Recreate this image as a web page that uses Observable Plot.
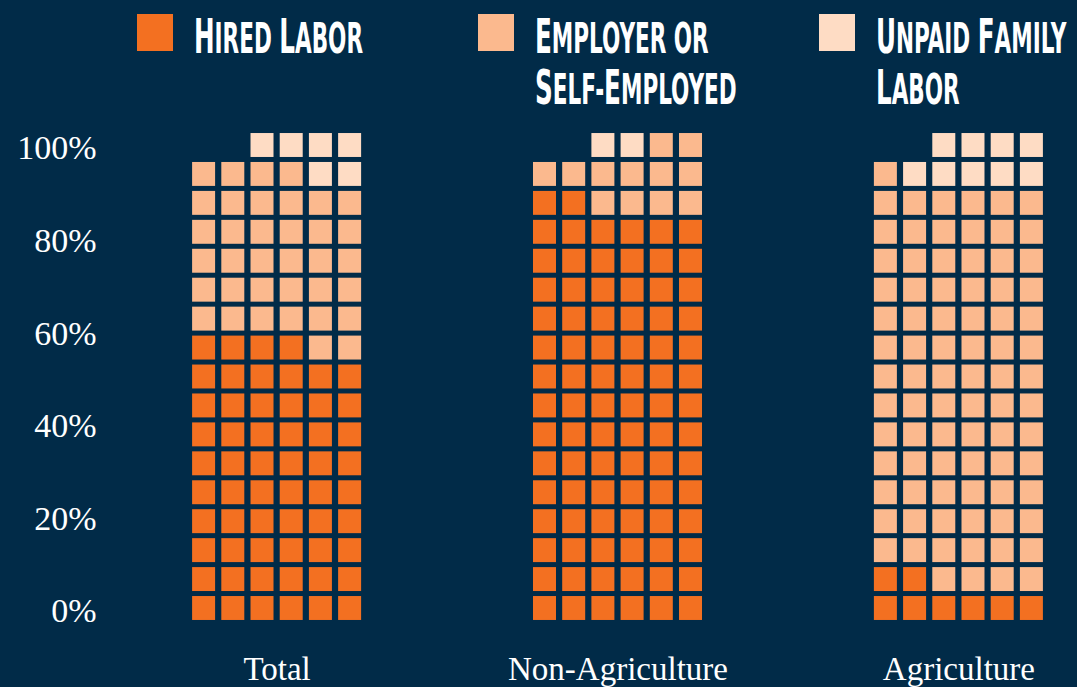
<!DOCTYPE html>
<html>
<head>
<meta charset="utf-8">
<script src="https://cdn.jsdelivr.net/npm/d3@7"></script>
<script src="https://cdn.jsdelivr.net/npm/@observablehq/plot@0.6"></script>
<style>
  html, body { margin: 0; padding: 0; background: #012b48; }
  #wrap { width: 1077px; height: 687px; position: relative; overflow: hidden; background: #012b48; }
  #legend { position: relative; width: 1077px; height: 110px; }
  .item { position: absolute; top: 0; height: 110px; }
  .sw { position: absolute; left: 0; top: 14px; width: 36px; height: 37px; }
  .line { position: absolute; left: 57px; white-space: nowrap; color: #fff;
          font-family: 'DejaVu Sans Condensed', 'DejaVu Sans', sans-serif; font-weight: bold;
          font-stretch: condensed; font-size: 48px; line-height: 48px; transform-origin: 0 0; }
  .cap { font-size: 48px; }
  .sc { font-size: 42px; }
  #chart svg { display: block; }
</style>
</head>
<body>
<div id="wrap">
  <div id="legend"></div>
  <div id="chart"></div>
</div>
<script>
// ---- data ----
const categories = ["Total", "Non-Agriculture", "Agriculture"];
const series = ["Hired Labor", "Employer or\nSelf-Employed", "Unpaid Family\nLabor"];
const hired = [58, 86, 8];
const employer = [36, 12, 83];
const unpaid = [6, 2, 9];
const colors = ["#f37021", "#fbb98e", "#fedcc4"];
const yTicks = [0, 20, 40, 60, 80, 100];

// ---- waffle layout (1 cell = 1%) ----
const total = 100, cols = 6, rowsPer100 = 16;
const step = total / rowsPer100;
const lastRowStart = Math.floor((total - 1) / cols) * cols;
const cells = [];
categories.forEach((cat, i) => {
  const vals = [hired[i], employer[i], unpaid[i]];
  let k = 0;
  vals.forEach((v, s) => {
    for (let j = 0; j < v; j++, k++) {
      const top = k >= lastRowStart;
      const row = Math.floor(k / cols);
      const col = top ? cols - 1 - (k - lastRowStart) : k % cols;
      cells.push({cat, series: series[s], col, y1: row * step - step / 2, y2: row * step + step / 2});
    }
  });
});

const plot = Plot.plot({
  width: 1077,
  height: 577,
  marginTop: 35,
  marginBottom: 79,
  marginLeft: 189,
  marginRight: 31,
  style: {background: "transparent", color: "#ffffff", fontFamily: "'Liberation Serif', serif", fontSize: "33px"},
  facet: {marginTop: 0, marginRight: 0, marginBottom: 0, marginLeft: 0},
  fx: {domain: categories, paddingInner: 0.486, paddingOuter: 0, round: false},
  x: {type: "band", domain: d3.range(cols), padding: 0, round: false, axis: null},
  y: {domain: [0, 100]},
  color: {domain: series, range: colors},
  marks: [
    Plot.barY(cells, {fx: "cat", x: "col", y1: "y1", y2: "y2", fill: "series",
      insetLeft: 3.1, insetRight: 3.1, insetTop: 2.5, insetBottom: 2.5}),
    Plot.axisY({ticks: yTicks, tickFormat: d => d + "%", tickSize: 0, tickPadding: 93, label: null, dy: 3, fontSize: 34}),
    Plot.axisFx({anchor: "bottom", tickSize: 0, tickPadding: 48, label: null})
  ]
});
document.getElementById("chart").appendChild(plot);

// ---- legend (HTML, above the SVG) ----
const legend = document.getElementById("legend");
const fxs = plot.scale("fx");
function smallCaps(text) {
  return text.split("").map(ch => ch !== ch.toLowerCase()
    ? `<span class="cap">${ch}</span>`
    : `<span class="sc">${ch === " " ? "&nbsp;" : ch.toUpperCase()}</span>`).join("");
}
const lineEls = [];
series.forEach((name, s) => {
  const item = document.createElement("div");
  item.className = "item";
  item.style.left = (fxs.apply(categories[s]) - 52) + "px";
  const sw = document.createElement("div");
  sw.className = "sw";
  sw.style.background = colors[s];
  item.appendChild(sw);
  name.split("\n").forEach((ln, li) => {
    const el = document.createElement("div");
    el.className = "line";
    el.style.top = (12 + li * 51) + "px";
    el.innerHTML = smallCaps(ln);
    item.appendChild(el);
    lineEls.push(el);
  });
  legend.appendChild(item);
});
const k = 169 / lineEls[0].getBoundingClientRect().width;
lineEls.forEach(el => el.style.transform = `scaleX(${k})`);
</script>
</body>
</html>
